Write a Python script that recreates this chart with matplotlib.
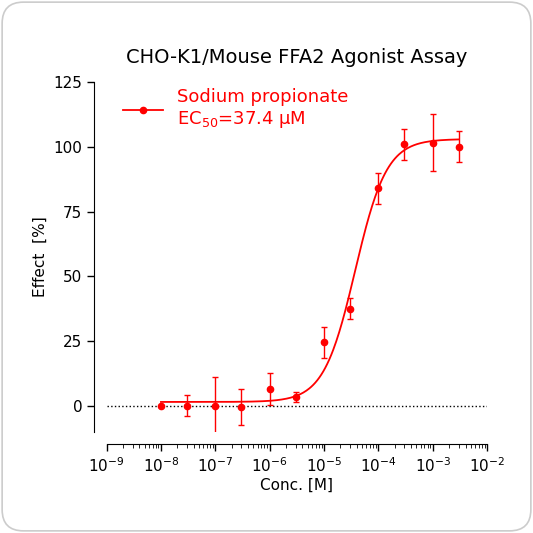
import numpy as np
import matplotlib
matplotlib.use("Agg")
import matplotlib.pyplot as plt
from matplotlib.patches import FancyBboxPatch

conc = [1e-8, 3e-8, 1e-7, 3e-7, 1e-6, 3e-6, 1e-5, 3e-5, 1e-4, 3e-4, 1e-3, 3e-3]
effect = [0, 0, 0, -0.5, 6.5, 3.5, 24.5, 37.5, 84, 101, 101.5, 100]
err = [0, 4, 11, 7, 6, 2, 6, 4, 6, 6, 11, 6]
bottom, top, ec50, hill = 1.5, 103.0, 37.4e-6, 1.5

red = "#ff0000"
fig = plt.figure(figsize=(5.33, 5.33), dpi=100)
bg = FancyBboxPatch((0.004, 0.004), 0.992, 0.992, boxstyle="round,pad=0,rounding_size=0.04",
                    transform=fig.transFigure, fc="white", ec="#cccccc", lw=1.2, zorder=-10)
fig.patches.append(bg)
ax = fig.add_axes([0.2, 0.19, 0.714, 0.656])
ax.set_facecolor("none")
xs = np.logspace(-8, np.log10(3e-3), 300)
ys = bottom + (top - bottom) / (1 + (ec50 / xs) ** hill)
ax.plot(xs, ys, color=red, lw=1.3)
ax.errorbar(conc, effect, yerr=err, fmt="o", color=red, ms=4.5, capsize=2.5, elinewidth=1, capthick=1)
ax.plot([], [], "-o", color=red, ms=4.5, lw=1.3, label="Sodium propionate\nEC$_{50}$=37.4 μM")
ax.axhline(0, color="black", ls=":", lw=1)
ax.set_xscale("log")
ax.set_xlim(1e-9, 1e-2)
ax.set_ylim(-10, 125)
ax.set_yticks([0, 25, 50, 75, 100, 125])
ax.set_xticks([10.0**k for k in range(-9, -1)])
ax.xaxis.set_minor_locator(matplotlib.ticker.LogLocator(base=10, subs=np.arange(2, 10), numticks=20))
ax.xaxis.set_minor_formatter(matplotlib.ticker.NullFormatter())
for s in ["top", "right"]:
    ax.spines[s].set_visible(False)
ax.spines["left"].set_position(("outward", 9))
ax.spines["bottom"].set_position(("outward", 9))
ax.tick_params(axis="both", labelsize=11, width=1, length=5)
ax.tick_params(axis="x", which="minor", length=3)
ax.set_xlabel("Conc. [M]", fontsize=11, labelpad=2)
ax.set_ylabel("Effect  [%]", fontsize=11)
ax.set_title("CHO-K1/Mouse FFA2 Agonist Assay", fontsize=14, pad=14)
leg = ax.legend(loc="upper left", bbox_to_anchor=(0.0, 1.03), frameon=False, fontsize=13, handlelength=2.2,
                labelcolor=red)
fig.savefig("out.png", dpi=100)
